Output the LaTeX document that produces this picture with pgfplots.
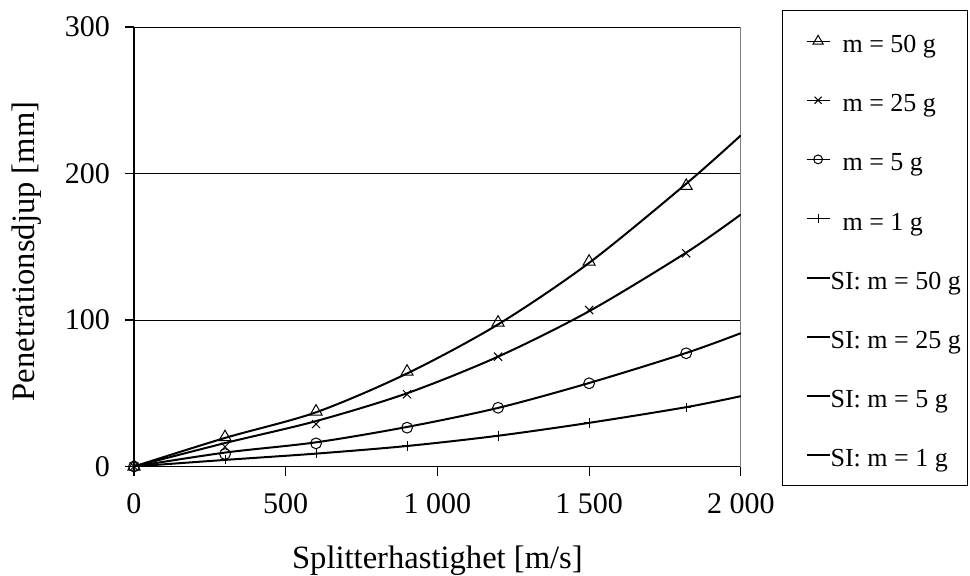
\documentclass[border=0pt]{standalone}
\usepackage{pgfplots}
\pgfplotsset{compat=1.18}
\usepackage{fontspec}
\setmainfont{Liberation Serif}
\begin{document}
\begin{tikzpicture}
\path[use as bounding box] (-67pt,-54.25pt) rectangle (418pt,233.25pt);
\begin{axis}[
  scale only axis, width=303.4pt, height=219.75pt,
  xmin=0, xmax=2000, ymin=0, ymax=300,
  axis lines*=left,
  axis line style={line width=0.7pt},
  xtick={0,500,1000,1500,2000}, ytick={0,100,200,300},
  tick align=outside, major tick length=4.5pt,
  tick style={black, line width=0.6pt},
  ymajorgrids, grid style={black, line width=0.5pt},
  /pgf/number format/assume math mode=true,
  /pgf/number format/1000 sep={\ },
  ticklabel style={font=\fontsize{15}{18}\selectfont},
  yticklabel style={xshift=-4pt},
  xticklabel style={yshift=-5.5pt},
  xlabel={Splitterhastighet [m/s]},
  ylabel={Penetrationsdjup [mm]},
  label style={font=\fontsize{16.3}{19}\selectfont},
  xlabel style={at={(axis description cs:0.5,-0.2332)}, anchor=base},
  ylabel style={at={(axis description cs:-0.1638,0.4892)}, anchor=base},
  legend cell align=left,
  legend image code/.code={\path (0pt,0pt); \draw[mark repeat=2,mark phase=2,#1] plot coordinates {(8.15pt,0pt) (13.9pt,0pt) (19.65pt,0pt)};},
  legend style={at={(1.0674,1.0387)}, anchor=north west, draw=black, line width=0.6pt,
    inner xsep=3.5pt, inner ysep=6pt, row sep=11.07pt, column sep=0pt,
    font=\fontsize{13}{16}\selectfont,
    nodes={text height=15pt, text depth=3.5pt, inner xsep=0pt, inner ysep=0pt}},
]
\draw[gray, line width=0.6pt] (rel axis cs:1,0) -- (rel axis cs:1,1);
% measured points
\addplot[only marks, black, mark=triangle, mark size=3.5pt, mark options={solid, line width=0.5pt},
  legend image post style={sharp plot, line width=0.5pt, mark size=2.9pt}] table {
x y
0 0
300 20
600 37.5
900 64.7
1200 98.2
1500 139.8
1820 191.5
};
\addlegendentry{\hspace{6pt}m = 50 g}
\addplot[only marks, black, mark=x, mark size=2.9pt, mark options={solid, line width=0.5pt},
  legend image post style={sharp plot, line width=0.5pt, mark size=2.5pt}] table {
x y
0 0
300 13.5
600 29
900 49.3
1200 75
1500 106.8
1820 145.5
};
\addlegendentry{\hspace{6pt}m = 25 g}
\addplot[only marks, black, mark=o, mark size=2.7pt, mark options={solid, line width=0.5pt},
  legend image post style={sharp plot, line width=0.5pt, mark size=2.2pt}] table {
x y
0 0
300 8.5
600 15.8
900 26.5
1200 40.1
1500 56.8
1820 77.3
};
\addlegendentry{\hspace{6pt}m = 5 g}
\addplot[only marks, black, mark=+, mark size=2.4pt, mark options={solid, line width=0.5pt},
  legend image post style={sharp plot, line width=0.5pt, mark size=2.4pt}] table {
x y
0 0
300 4.9
600 9
900 14.2
1200 21
1500 29.9
1820 40.4
};
\addlegendentry{\hspace{6pt}m = 1 g}
% SI model curves
\addplot[black, line width=1pt, smooth, no marks] table {
x y
0 0
300 19.5
600 37
900 63.5
1200 97
1500 139
1820 193
2000 226
};
\addlegendentry{SI: m = 50 g}
\addplot[black, line width=1pt, smooth, no marks] table {
x y
0 0
300 16
600 31
900 50
1200 75
1500 106
1820 146
2000 172
};
\addlegendentry{SI: m = 25 g}
\addplot[black, line width=1pt, smooth, no marks] table {
x y
0 0
300 9.5
600 16.5
900 27
1200 40
1500 57
1820 77.5
2000 91
};
\addlegendentry{SI: m = 5 g}
\addplot[black, line width=1pt, smooth, no marks] table {
x y
0 0
300 4.5
600 8.8
900 14
1200 21
1500 29.8
1820 40.5
2000 48
};
\addlegendentry{SI: m = 1 g}
\end{axis}
\end{tikzpicture}
\end{document}
